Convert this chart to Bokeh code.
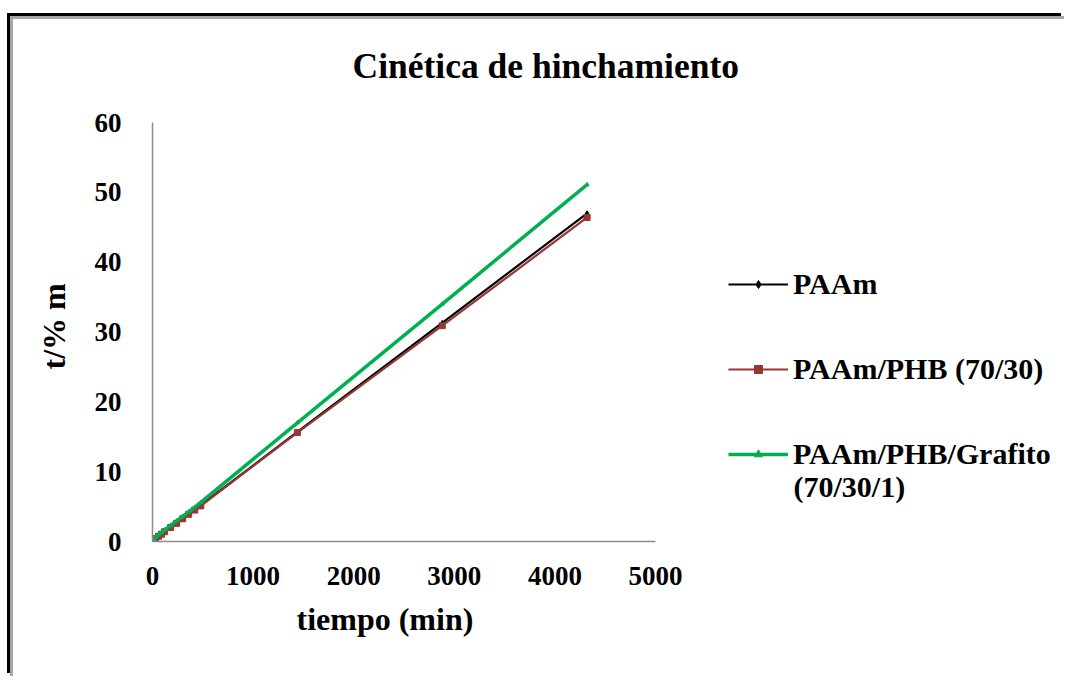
from bokeh.plotting import figure
from bokeh.models import Range1d, FixedTicker, Legend, LegendItem, Label, Title
from bokeh.embed import file_html
from bokeh.resources import INLINE

# ---- data ----
tiempo = [0, 15, 30, 60, 90, 120, 180, 240, 300, 360, 420, 480, 1440, 2880, 4320]
paam = [0, 0.25, 0.45, 0.8, 1.1, 1.45, 2.05, 2.7, 3.3, 3.95, 4.6, 5.2, 15.7, 31.3, 47.0]
paam_phb = [0, 0.22, 0.42, 0.75, 1.05, 1.4, 2.0, 2.6, 3.25, 3.9, 4.5, 5.1, 15.6, 30.9, 46.4]
paam_phb_grafito = [0, 0.35, 0.6, 0.95, 1.3, 1.65, 2.3, 2.95, 3.6, 4.25, 4.9, 5.6, 17.0, 34.0, 51.1]

series_names = ["PAAm", "PAAm/PHB (70/30)", "PAAm/PHB/Grafito"]
legend_extra = "(70/30/1)"
x_ticks = [0, 1000, 2000, 3000, 4000, 5000]
y_ticks = [0, 10, 20, 30, 40, 50, 60]
title_text = "Cinética de hinchamiento"
x_label = "tiempo (min)"
y_label = "t/% m"
x_axis_max = 5000
y_axis_max = 60

FONT = "Liberation Serif"

# layout (pixels)
W, H = 1054, 660
LEFT, RIGHT, TOP, BOTTOM = 139, 2, 2, 138
AXIS_W = 503   # pixel length of the 0..5000 x axis
AXIS_H = 419   # pixel length of the 0..60 y axis
frame_w = W - LEFT - RIGHT
frame_h = H - TOP - BOTTOM

p = figure(width=W, height=H, output_backend="svg", toolbar_location=None,
           x_range=Range1d(0, x_axis_max * frame_w / AXIS_W),
           y_range=Range1d(0, y_axis_max * frame_h / AXIS_H),
           min_border_left=LEFT, min_border_right=RIGHT, min_border_top=TOP, min_border_bottom=BOTTOM,
           background_fill_color="white", border_fill_color="white")
p.styles = {"margin-top": "16px", "margin-left": "10px",
            "border-top": "3px solid #a6a6a6", "border-left": "3px solid #a6a6a6",
            "box-shadow": "-3px -3px 0 0 #000000"}
p.outline_line_color = None
p.grid.grid_line_color = None

for ax in (p.xaxis[0], p.yaxis[0]):
    ax.axis_line_color = "#8c8c8c"
    ax.axis_line_width = 1.5
    ax.major_tick_line_color = None
    ax.minor_tick_line_color = None
    ax.major_label_text_font = FONT
    ax.major_label_text_font_style = "bold"
    ax.major_label_text_font_size = "27px"
    ax.major_label_text_color = "black"

p.xaxis.bounds = (0, x_axis_max)
p.yaxis.bounds = (0, y_axis_max)
p.xaxis.ticker = FixedTicker(ticks=x_ticks)
p.yaxis.ticker = FixedTicker(ticks=y_ticks)
p.xaxis.major_label_standoff = 19
p.yaxis.major_label_standoff = 25

# axis titles, aligned on the 0..5000 / 0..60 axis spans
p.add_layout(Title(text=x_label, align="left", offset=144, standoff=23,
                   text_font=FONT, text_font_style="bold", text_font_size="32px",
                   text_color="black"), "below")
p.add_layout(Title(text=y_label, align="left", offset=172, standoff=40,
                   text_font=FONT, text_font_style="bold", text_font_size="32px",
                   text_color="black"), "left")

# chart title
p.add_layout(Label(x=200, y=476, x_units="screen", y_units="screen", text=title_text,
                   text_font=FONT, text_font_style="bold", text_font_size="35.5px",
                   text_color="black", text_baseline="alphabetic"))

# series
l1 = p.line(tiempo, paam, line_color="black", line_width=2.2)
s1 = p.scatter(tiempo, paam, marker="diamond", size=5, color="black")
l2 = p.line(tiempo, paam_phb, line_color="#953735", line_width=2.2)
s2 = p.scatter(tiempo, paam_phb, marker="square", size=6, color="#953735")
l3 = p.line(tiempo, paam_phb_grafito, line_color="#00B050", line_width=3.5)
s3 = p.scatter(tiempo, paam_phb_grafito, marker="triangle", size=4, color="#00B050")

legend = Legend(items=[LegendItem(label=series_names[0], renderers=[l1, s1]),
                       LegendItem(label=series_names[1], renderers=[l2, s2]),
                       LegendItem(label=series_names[2], renderers=[l3, s3])],
                location=(576, 70), glyph_width=60, glyph_height=20, label_standoff=5,
                spacing=51, padding=0, margin=0,
                border_line_color=None, background_fill_alpha=0,
                label_text_font=FONT, label_text_font_style="bold",
                label_text_font_size="30px", label_text_color="black")
p.add_layout(legend, "center")

p.add_layout(Label(x=641, y=55, x_units="screen", y_units="screen", text=legend_extra,
                   text_font=FONT, text_font_style="bold", text_font_size="30px",
                   text_color="black", text_baseline="alphabetic"))

open("out.html", "w").write(file_html(p, INLINE))
